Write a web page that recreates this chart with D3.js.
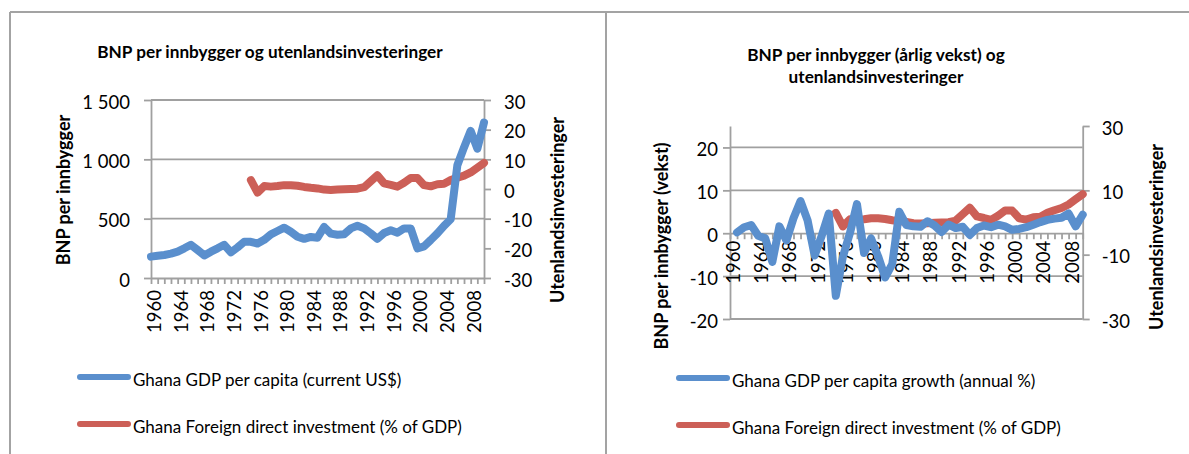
<!DOCTYPE html>
<html>
<head>
<meta charset="utf-8">
<script src="https://cdn.jsdelivr.net/npm/d3@7"></script>
<style>
  body { margin: 0; background: #fff; }
  svg { display: block; font-family: Lato, "Open Sans", sans-serif; }
  .frame line { stroke: #a3a3a3; stroke-width: 2; }
  .grid line { stroke: #a0a0a0; stroke-width: 1.8; }
  .axis path, .axis line { stroke: #a0a0a0; stroke-width: 1.8; }
  .axis text { fill: #000; font-size: 18.5px; font-family: Lato, sans-serif; }
  .title { font-weight: bold; font-size: 17.2px; }
  .atitle { font-weight: bold; font-size: 18px; }
  .legend text { font-size: 17px; }
</style>
</head>
<body>
<svg id="chart" width="1189" height="454"></svg>
<script>
// categories
const years = [1960,1961,1962,1963,1964,1965,1966,1967,1968,1969,
               1970,1971,1972,1973,1974,1975,1976,1977,1978,1979,
               1980,1981,1982,1983,1984,1985,1986,1987,1988,1989,
               1990,1991,1992,1993,1994,1995,1996,1997,1998,1999,
               2000,2001,2002,2003,2004,2005,2006,2007,2008,2009,2010];
const yearLabels = [1960,1964,1968,1972,1976,1980,1984,1988,1992,1996,2000,2004,2008];

// Ghana GDP per capita (current US$)
const gdpPerCapita = [180,188,194,205,222,250,280,236,190,222,
                      250,280,216,258,305,305,290,322,368,396,
                      424,390,348,330,346,340,430,374,365,368,
                      418,440,418,376,330,380,402,382,418,418,
                      250,267,320,376,440,495,950,1100,1240,1090,1310];

// Ghana GDP per capita growth (annual %)
const gdpGrowth = [null,0.2,1.4,1.9,-0.6,-1.2,-6.7,1.6,-1.7,3.5,
                   7.5,3.0,-5.2,-0.6,4.6,-14.6,-5.5,0.0,6.8,-4.6,
                   -1.2,-5.4,-10.3,-7.2,5.0,1.9,1.6,1.5,2.8,1.8,
                   0.3,2.0,1.2,1.5,-0.4,1.2,1.8,1.4,2.0,1.6,
                   0.8,1.0,1.4,2.0,2.6,3.1,3.4,3.6,4.6,1.6,4.3];

// Ghana Foreign direct investment (% of GDP)
const fdi = [null,null,null,null,null,null,null,null,null,null,
             null,null,null,null,null,3.0,-1.2,1.0,0.8,1.0,
             1.3,1.3,1.1,0.7,0.4,0.2,-0.2,-0.3,-0.2,-0.1,
             0.0,0.1,0.6,2.6,4.6,1.9,1.4,0.8,2.1,3.7,
             3.7,1.3,0.9,1.6,1.8,3.0,3.8,4.5,5.6,7.2,8.8];

const ticksGdp = [0, 500, 1000, 1500];
const ticksFdiLeft = [-30, -20, -10, 0, 10, 20, 30];
const ticksGrowth = [-20, -10, 0, 10, 20];
const ticksFdiRight = [-30, -10, 10, 30];

const blue = "#5a8fcd", red = "#cc5f57";

const svg = d3.select("#chart");
const nb = d3.formatLocale({decimal: ",", thousands: "\u00a0", grouping: [3], currency: ["", ""], minus: "-"});
const fmt = nb.format(",");

// page frame (table borders of the document)
const frame = svg.append("g").attr("class", "frame");
frame.append("line").attr("x1", 10).attr("x2", 1189).attr("y1", 12).attr("y2", 12);
frame.append("line").attr("x1", 10).attr("x2", 10).attr("y1", 12).attr("y2", 454);
frame.append("line").attr("x1", 606).attr("x2", 606).attr("y1", 12).attr("y2", 454);

function drawPanel(p) {
  const g = svg.append("g");
  const x = d3.scaleLinear().domain([years[0], years[years.length - 1]]).range([p.left, p.right]);
  const yL = d3.scaleLinear().domain(p.leftDomain).range([p.bottom, p.top]);
  const yR = d3.scaleLinear().domain([-30, 30]).range([p.bottom, p.top]);

  g.append("g").attr("class", "grid")
    .selectAll("line").data(p.grid).join("line")
    .attr("x1", p.left).attr("x2", p.right)
    .attr("y1", d => yL(d)).attr("y2", d => yL(d));

  g.append("g").attr("class", "axis").attr("transform", `translate(${p.left},0)`)
    .call(d3.axisLeft(yL).tickValues(p.leftTicks).tickFormat(fmt).tickSize(7).tickSizeOuter(0).tickPadding(p.leftPad))
    .selectAll("text").attr("dy", "0.45em");

  g.append("g").attr("class", "axis").attr("transform", `translate(${p.right},0)`)
    .call(d3.axisRight(yR).tickValues(p.rightTicks).tickFormat(fmt).tickSize(7).tickSizeOuter(0).tickPadding(p.rightPad))
    .selectAll("text").attr("dy", "0.45em");

  const xa = g.append("g").attr("class", "axis").attr("transform", `translate(0,${yL(0)})`)
    .call(d3.axisBottom(x).tickValues(years).tickSize(6).tickSizeOuter(0)
      .tickFormat(d => yearLabels.includes(d) ? String(d) : ""));
  xa.selectAll("text")
    .attr("transform", "rotate(-90)").attr("text-anchor", "end")
    .attr("x", -p.labelGap).attr("y", 3).attr("dy", "0.35em");

  const line = (vals, y) => d3.line()
    .defined(d => d[1] != null)
    .x(d => x(d[0])).y(d => y(d[1]))(years.map((yr, i) => [yr, vals[i]]));

  g.append("path").attr("d", line(fdi, yR)).attr("fill", "none").attr("stroke", red)
    .attr("stroke-width", 8).attr("stroke-linejoin", "round").attr("stroke-linecap", "round");
  g.append("path").attr("d", line(p.blueData, yL)).attr("fill", "none").attr("stroke", blue)
    .attr("stroke-width", 8).attr("stroke-linejoin", "round").attr("stroke-linecap", "round");

  // chart title
  const t = g.append("text").attr("class", "title").attr("text-anchor", "middle");
  p.title.forEach((s, i) => t.append("tspan").attr("x", p.titleX).attr("y", p.titleY + i * 22).text(s));

  // axis titles
  g.append("text").attr("class", "atitle").attr("text-anchor", "middle")
    .attr("transform", `translate(${p.leftTitle[0]},${p.leftTitle[1]}) rotate(-90)`)
    .attr("dy", "0.35em").text(p.leftTitleText);
  g.append("text").attr("class", "atitle").attr("text-anchor", "middle")
    .attr("transform", `translate(${p.rightTitle[0]},${p.rightTitle[1]}) rotate(-90)`)
    .attr("dy", "0.35em").text("Utenlandsinvesteringer");

  // legend
  const lg = g.append("g").attr("class", "legend");
  const items = [[p.blueName, blue], ["Ghana Foreign direct investment (% of GDP)", red]];
  items.forEach((it, i) => {
    const ly = p.legendY + i * 47;
    lg.append("line").attr("x1", p.legendX).attr("x2", p.legendX + 48).attr("y1", ly).attr("y2", ly)
      .attr("stroke", it[1]).attr("stroke-width", 6).attr("stroke-linecap", "round");
    lg.append("text").attr("x", p.legendX + 53).attr("y", ly).attr("dy", "0.5em").text(it[0]);
  });
}

drawPanel({
  left: 151, right: 484, top: 100, bottom: 278,
  leftDomain: [0, 1500], leftTicks: ticksGdp, rightTicks: ticksFdiLeft, grid: [500, 1000, 1500],
  leftPad: 14, rightPad: 13, labelGap: 12,
  blueData: gdpPerCapita, blueName: "Ghana GDP per capita (current US$)",
  title: ["BNP per innbygger og utenlandsinvesteringer"], titleX: 270, titleY: 58,
  leftTitleText: "BNP per innbygger", leftTitle: [64, 190], rightTitle: [558, 210],
  legendX: 80, legendY: 377
});

drawPanel({
  left: 730, right: 1082.7, top: 126, bottom: 319,
  leftDomain: [-20, 25], leftTicks: ticksGrowth, rightTicks: ticksFdiRight, grid: [-20, -10, 10, 20],
  leftPad: 5, rightPad: 12, labelGap: 7.5,
  blueData: gdpGrowth, blueName: "Ghana GDP per capita growth (annual %)",
  title: ["BNP per innbygger (årlig vekst) og", "utenlandsinvesteringer"], titleX: 876, titleY: 61,
  leftTitleText: "BNP per innbygger (vekst)", leftTitle: [662, 246], rightTitle: [1157, 237],
  legendX: 679, legendY: 378
});
</script>
</body>
</html>
